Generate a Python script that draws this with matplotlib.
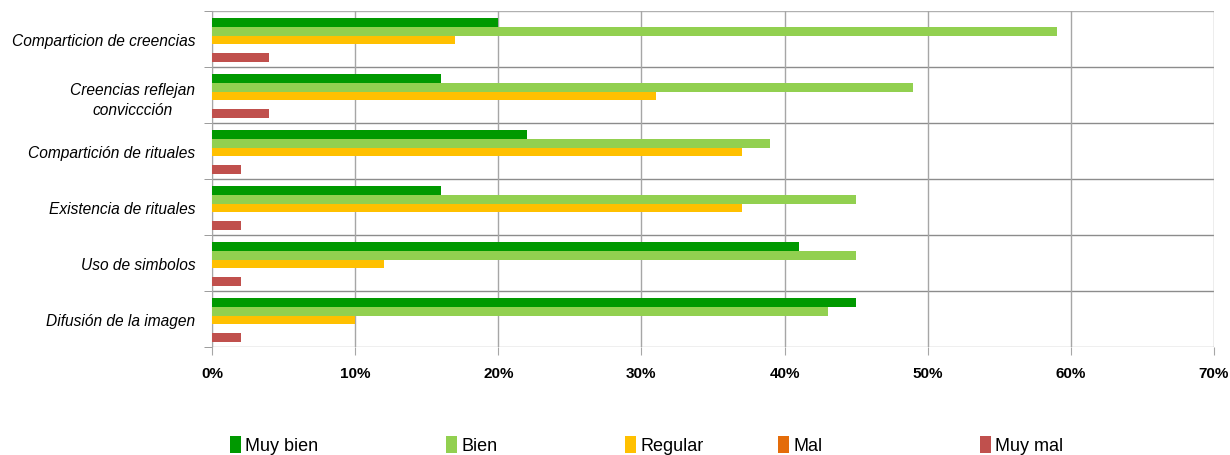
import numpy as np
import matplotlib.pyplot as plt
from matplotlib.ticker import FixedLocator, FuncFormatter

categorias = ["Comparticion de creencias", "Creencias reflejan\nconviccción",
              "Compartición de rituales", "Existencia de rituales",
              "Uso de simbolos", "Difusión de la imagen"]
series = ["Muy bien", "Bien", "Regular", "Mal", "Muy mal"]
muy_bien = [20, 16, 22, 16, 41, 45]
bien = [59, 49, 39, 45, 45, 43]
regular = [17, 31, 37, 37, 12, 10]
mal = [0, 0, 0, 0, 0, 0]
muy_mal = [4, 4, 2, 2, 2, 2]
x_ticks = [0, 10, 20, 30, 40, 50, 60, 70]

colores = ["#009900", "#92D050", "#FFC000", "#E46C0A", "#C0504D"]
valores = [muy_bien, bien, regular, mal, muy_mal]

fig = plt.figure(figsize=(12.3, 4.56), dpi=100)
ax = fig.add_axes([212/1230, 1 - 348/456, (1214-212)/1230, (348-12)/456])

y = np.arange(len(categorias))
h = 0.155
inicio = -2.5 * h
for i, (nombre, vals, c) in enumerate(zip(series, valores, colores)):
    ax.barh(y + inicio + h*(i + 0.5) + 0.02, vals, height=h, color=c,
            linewidth=0, label=nombre, zorder=3)

ax.set_xlim(0, 70)
ax.set_ylim(len(categorias) - 0.5, -0.5)

# lineas de la cuadricula
ax.xaxis.set_major_locator(FixedLocator(x_ticks))
ax.xaxis.set_major_formatter(FuncFormatter(lambda v, p: f"{int(v)}%"))
ax.grid(axis="x", color="#A6A6A6", linewidth=1, zorder=0)
for b in np.arange(-0.5, len(categorias), 1):
    ax.axhline(b, color="#8C8C8C" if -0.5 < b < len(categorias) - 0.5 else "#B0B0B0",
               linewidth=1, zorder=1)

ax.set_yticks(y)
ax.set_yticklabels(categorias, fontstyle="italic", fontsize=11.2,
                   family=["Liberation Sans", "DejaVu Sans"], multialignment="center",
                   linespacing=1.45)
ax.yaxis.set_minor_locator(FixedLocator(np.arange(-0.5, len(categorias), 1)))
ax.tick_params(axis="y", which="major", length=0, pad=12)
ax.tick_params(axis="y", which="minor", length=6, color="#8C8C8C", direction="out")
ax.tick_params(axis="x", length=6, color="#A6A6A6", pad=8)
for t in ax.get_xticklabels():
    t.set_fontweight("bold")
    t.set_fontsize(11)
    t.set_family(["Liberation Sans", "DejaVu Sans"])

for s in ["top", "right", "bottom"]:
    ax.spines[s].set_visible(False)
ax.spines["left"].set_color("#A6A6A6")

# leyenda, una entrada por serie
handles, labels = ax.get_legend_handles_labels()
pos_x = [230, 446, 625, 778, 980]
for hd, lb, px in zip(handles, labels, pos_x):
    fig.legend([hd], [lb], loc="center left", bbox_to_anchor=(px/1230, 1 - 446/456),
               frameon=False, handlelength=0.6, handleheight=1.1, handletextpad=0.25,
               borderpad=0, borderaxespad=0,
               prop={"family": ["Liberation Sans Narrow", "Liberation Sans"], "size": 13})

fig.savefig("out.png", dpi=100)
